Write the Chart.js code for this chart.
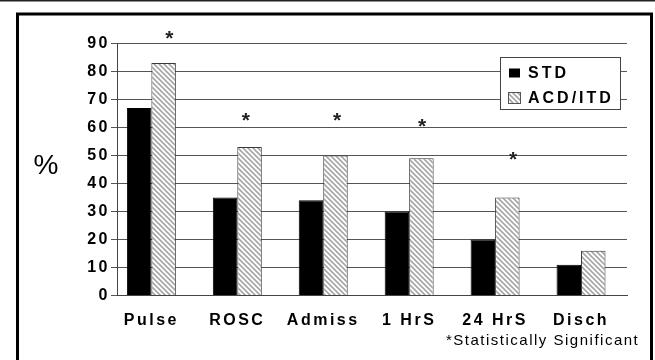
<!DOCTYPE html>
<html><head><meta charset="utf-8">
<script src="https://cdn.jsdelivr.net/npm/chart.js@4/dist/chart.umd.min.js"></script>
<style>html,body{margin:0;padding:0;background:#fff;overflow:hidden}#wrap{width:655px;height:360px;position:relative}</style>
</head><body><div id="wrap"><canvas id="c"></canvas></div>
<script>
const categories = ['Pulse', 'ROSC', 'Admiss', '1 HrS', '24 HrS', 'Disch'];
const seriesNames = ['STD', 'ACD/ITD'];
const stdValues = [67, 35, 34, 30, 20, 11];
const acdValues = [83, 53, 50, 49, 35, 16];
const yTickValues = [0, 10, 20, 30, 40, 50, 60, 70, 80, 90];
// significance asterisks, in data units (x = category index, y = value)
const starX = [0.21, 1.10, 2.16, 3.15, 4.21];
const starY = [93, 63.6, 63.6, 61.5, 50];
const yTitle = '%';
const footnote = '*Statistically Significant';

const FONT = "'Liberation Sans', Arial, Helvetica, sans-serif";

function makeHatch() {
  const s = 5;
  const c = document.createElement('canvas');
  c.width = s; c.height = s;
  const g = c.getContext('2d');
  g.fillStyle = '#ffffff'; g.fillRect(0, 0, s, s);
  g.strokeStyle = '#a6a6a6'; g.lineWidth = 1.6;
  g.beginPath();
  g.moveTo(-1, -1); g.lineTo(s + 1, s + 1);
  g.moveTo(-1, s - 1); g.lineTo(1, s + 1);
  g.moveTo(s - 1, -1); g.lineTo(s + 1, 1);
  g.stroke();
  return g.createPattern(c, 'repeat');
}
const canvas = document.getElementById('c');
canvas.width = 655; canvas.height = 360;
const hatch = makeHatch();

const toPoints = vals => vals.map((v, i) => ({x: i, y: v}));

const decor = {
  id: 'decor',
  beforeDraw(chart) {
    const ctx = chart.ctx;
    ctx.save();
    ctx.fillStyle = '#fff';
    ctx.fillRect(0, 0, chart.width, chart.height);
    ctx.fillStyle = '#222';
    ctx.fillRect(0, 0, chart.width, 1.5);
    ctx.strokeStyle = '#000';
    ctx.lineWidth = 3;
    ctx.strokeRect(17.5, 14, 634, 400);
    ctx.restore();
    ctx.letterSpacing = '2.5px';
  },
  afterDraw(chart) {
    const ctx = chart.ctx;
    const xs = chart.scales.x, ys = chart.scales.y;
    ctx.save();
    // asterisks
    ctx.letterSpacing = '0px';
    ctx.fillStyle = '#222';
    ctx.font = 'bold 21px ' + FONT;
    ctx.textAlign = 'center';
    ctx.textBaseline = 'alphabetic';
    const m = ctx.measureText('*');
    const off = (m.actualBoundingBoxDescent - m.actualBoundingBoxAscent) / 2;
    for (let i = 0; i < starX.length; i++) {
      const px = xs.getPixelForValue(starX[i]);
      const py = ys.getPixelForValue(starY[i]);
      ctx.fillText('*', px, py - off);
    }
    // y title
    ctx.fillStyle = '#000';
    ctx.font = '28px ' + FONT;
    ctx.textBaseline = 'middle';
    ctx.fillText(yTitle, 46, 166);
    // footnote
    ctx.letterSpacing = '1.5px';
    ctx.font = '15px ' + FONT;
    ctx.textAlign = 'left';
    ctx.textBaseline = 'alphabetic';
    ctx.fillText(footnote, 446, 345);
    // legend
    const bx = 500.5, by = 57.5, bw = 120, bh = 52;
    ctx.fillStyle = '#fff';
    ctx.fillRect(bx, by, bw, bh);
    ctx.strokeStyle = '#444';
    ctx.lineWidth = 1;
    ctx.strokeRect(bx, by, bw, bh);
    const ds = chart.data.datasets;
    const rows = [73, 98];
    ctx.letterSpacing = '3px';
    ctx.font = 'bold 16px ' + FONT;
    ctx.textBaseline = 'middle';
    for (let i = 0; i < ds.length; i++) {
      const cy = rows[i];
      ctx.fillStyle = ds[i].backgroundColor;
      if (i === 0) {
        ctx.fillRect(509, cy - 4.5, 11, 9);
      } else {
        ctx.fillRect(508.5, cy - 5.5, 12, 11);
        ctx.strokeStyle = '#555';
        ctx.strokeRect(508.5, cy - 5.5, 12, 11);
      }
      ctx.fillStyle = '#000';
      ctx.fillText(ds[i].label, 528, cy + 1);
    }
    ctx.restore();
  }
};

new Chart(canvas, {
  type: 'bar',
  data: {
    datasets: [
      {label: seriesNames[0], data: toPoints(stdValues), backgroundColor: '#000000', borderColor: '#000000', borderWidth: 1},
      {label: seriesNames[1], data: toPoints(acdValues), backgroundColor: hatch, borderColor: '#3a3a3a', borderWidth: 1}
    ]
  },
  options: {
    responsive: false,
    animation: false,
    devicePixelRatio: 1,
    categoryPercentage: 0.57,
    barPercentage: 1.0,
    layout: {padding: {top: 43.5, right: 28, bottom: 0, left: 0}},
    plugins: {legend: {display: false}, tooltip: {enabled: false}, title: {display: false}},
    scales: {
      x: {
        type: 'linear',
        offset: false,
        bounds: 'data',
        min: -0.40,
        max: 5.535,
        grid: {display: false, drawTicks: false, offset: false},
        border: {display: true, color: '#444', width: 1},
        afterFit(scale) { scale.height = 64.5; },
        afterBuildTicks(scale) { scale.ticks = categories.map((c, i) => ({value: i})); },
        ticks: {
          autoSkip: false,
          maxRotation: 0,
          padding: 15,
          color: '#000',
          font: {family: FONT, size: 16, weight: 'bold'},
          callback: (v) => categories[v] !== undefined ? categories[v] : ''
        }
      },
      y: {
        min: 0,
        max: 90,
        afterFit(scale) { scale.width = 117; },
        afterBuildTicks(scale) { scale.ticks = yTickValues.map(v => ({value: v})); },
        grid: {color: '#555', lineWidth: 1, drawTicks: true, tickLength: 6},
        border: {display: true, color: '#444', width: 1},
        ticks: {
          padding: 1,
          color: '#000',
          font: {family: FONT, size: 16, weight: 'bold'}
        }
      }
    }
  },
  plugins: [decor]
});
</script></body></html>
